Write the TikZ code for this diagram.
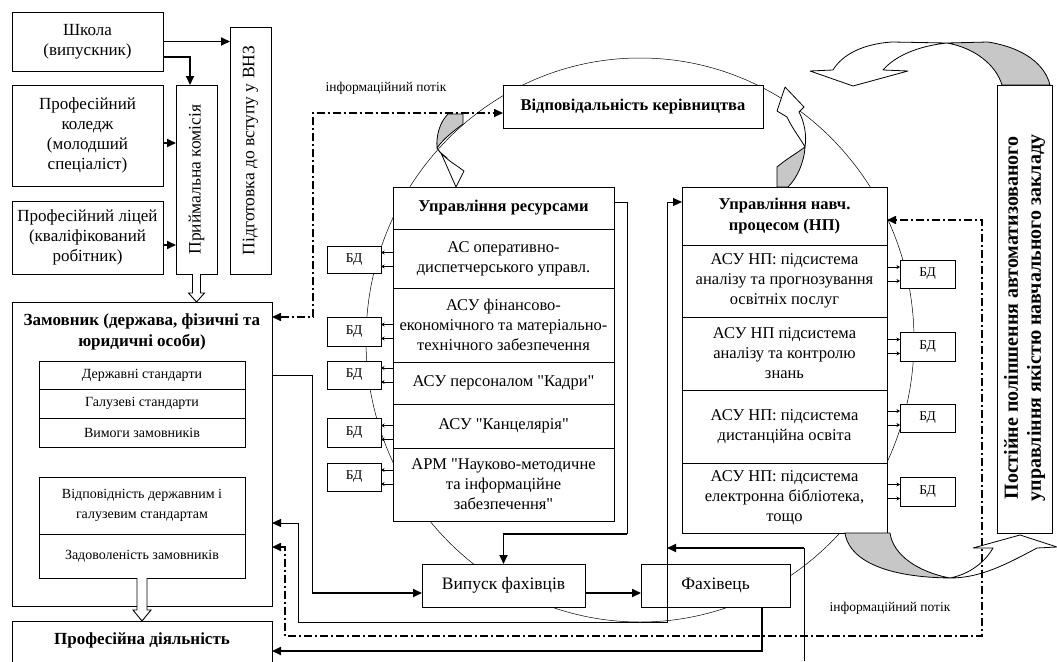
\documentclass[tikz,border=0pt]{standalone}
\usepackage{fontspec}
\setmainfont{Liberation Serif}
\usetikzlibrary{arrows.meta,calc}
\newcommand\qq{{\addfontfeatures{Ligatures=TeXOff}"}}
\begin{document}
\begin{tikzpicture}[x=1pt,y=-1pt,
  every node/.style={inner sep=0pt, outer sep=0pt},
  bx/.style={draw, line width=0.9pt, fill=white, align=center, font=\fontsize{16.5}{20}\selectfont},
  lbx/.style={bx, font=\fontsize{17}{20}\selectfont},
  sbx/.style={bx, minimum width=206pt, font=\fontsize{14}{20}\selectfont},
  row/.style={bx, minimum width=221pt},
  nrow/.style={bx, minimum width=205pt},
  bd/.style={draw, line width=0.9pt, fill=white, font=\fontsize{13.5}{14}\selectfont},
  rot/.style={rotate=90, align=center, font=\fontsize{17.5}{20}\selectfont},
  lab/.style={font=\fontsize{13.5}{14}\selectfont},
  hd/.style={font=\bfseries\fontsize{16.5}{21}\selectfont},
  ln/.style={line width=0.9pt},
  thk/.style={line width=1.8pt},
  tip/.style={-{Triangle[length=9pt,width=8pt]}},
  tips/.style={{Triangle[length=9pt,width=8pt]}-{Triangle[length=9pt,width=8pt]}},
  dd/.style={line width=1.6pt, dash pattern=on 8pt off 3pt on 2pt off 3pt},
  sm/.style={line width=0.7pt,-{Stealth[length=3.5pt,width=4pt]}},
  ribbon/.style={line width=0.8pt, fill=white, line join=round},
  ribbong/.style={line width=0.8pt, fill=black!22, line join=round},
]
\clip (0,0) rectangle (1057,661);
\fill[white] (0,0) rectangle (1057,661);

% big cycle
\draw[line width=0.5pt] (640,340) ellipse [x radius=274, y radius=282];

% ---------- left column ----------
\node[lbx, minimum width=151pt, minimum height=59pt] (school) at (87.5,41.5) {Школа\\(випускник)};
\node[lbx, minimum width=151pt, minimum height=101pt] (college) at (87.5,135.5) {Професійний\\коледж\\(молодший\\спеціаліст)};
\node[lbx, minimum width=151pt, minimum height=73pt] (lyceum) at (87.5,237.5) {Професійний ліцей\\(кваліфікований\\робітник)};
\node[bx, minimum width=41pt, minimum height=189pt] (pk) at (196.5,179.5) {};
\node[rot] (pkT) at (pk.center) {Приймальна комісія};
\node[bx, minimum width=41pt, minimum height=247pt] (prep) at (250.5,150.5) {};
\node[rot] (prepT) at (prep.center) {Підготовка до вступу у ВНЗ};

\node[bx, minimum width=260pt, minimum height=304pt] (zam) at (142,454) {};
\node[hd, align=center, font=\bfseries\fontsize{17}{21}\selectfont] (zamT) at (142,332) {Замовник (держава, фізичні та\\юридичні особи)};
\node[sbx, minimum height=28pt] (s1) at (142,375) {Державні стандарти};
\node[sbx, minimum height=29pt] (s2) at (142,403.5) {Галузеві стандарти};
\node[sbx, minimum height=29pt] (s3) at (142,432.5) {Вимоги замовників};
\node[sbx, minimum height=57pt] (conf) at (142,505.5) {Відповідність державним і\\галузевим стандартам};
\node[sbx, minimum height=44pt] (sat) at (142,556) {Задоволеність замовників};

\node[bx, minimum width=260pt, minimum height=60pt, anchor=north] (prof) at (142,621) {};
\node[hd, font=\bfseries\fontsize{17}{21}\selectfont] (profT) at (142,640) {Професійна діяльність};

% ---------- middle ----------
\node[bx, hd, minimum width=260pt, minimum height=43pt] (otv) at (633,106.5) {Відповідальність керівництва};
\node[row, hd, minimum height=42pt] (ur) at (503.5,208) {Управління ресурсами};
\node[row, minimum height=59pt] (r1) at (503.5,258.5) {АС оперативно-\\диспетчерського управл.};
\node[row, minimum height=74pt] (r2) at (503.5,325) {АСУ фінансово-\\економічного та матеріально-\\технічного забезпечення};
\node[row, minimum height=42pt] (r3) at (503.5,383) {АСУ персоналом \qq Кадри\qq};
\node[row, minimum height=44pt] (r4) at (503.5,426) {АСУ \qq Канцелярія\qq};
\node[row, minimum height=73pt] (r5) at (503.5,484.5) {АРМ \qq Науково-методичне\\та інформаційне\\забезпечення\qq};

\node[nrow, hd, minimum height=58pt] (un) at (784.5,216) {Управління навч.\\процесом (НП)};
\node[nrow, minimum height=72pt] (n1) at (784.5,281) {АСУ НП: підсистема\\аналізу та прогнозування\\освітніх послуг};
\node[nrow, minimum height=73pt] (n2) at (784.5,353.5) {АСУ НП підсистема\\аналізу та контролю\\знань};
\node[nrow, minimum height=73pt] (n3) at (784.5,426.5) {АСУ НП: підсистема\\дистанційна освіта};
\node[nrow, minimum height=70pt] (n4) at (784.5,498) {АСУ НП: підсистема\\електронна бібліотека,\\тощо};

% databases
\node[bd, minimum width=54pt, minimum height=27pt] (L1) at (354,259.5) {БД};
\node[bd, minimum width=54pt, minimum height=29pt] (L2) at (354,331.5) {БД};
\node[bd, minimum width=54pt, minimum height=28pt] (L3) at (354,375) {БД};
\node[bd, minimum width=54pt, minimum height=29pt] (L4) at (354,432.5) {БД};
\node[bd, minimum width=54pt, minimum height=28pt] (L5) at (354,477) {БД};
\node[bd, minimum width=55pt, minimum height=28pt] (R1) at (927.5,274) {БД};
\node[bd, minimum width=55pt, minimum height=29pt] (R2) at (927.5,346.5) {БД};
\node[bd, minimum width=55pt, minimum height=28pt] (R3) at (927.5,418) {БД};
\node[bd, minimum width=55pt, minimum height=29pt] (R4) at (927.5,491.5) {БД};

\node[bx, font=\fontsize{17.5}{20}\selectfont, minimum width=163pt, minimum height=43pt] (vyp) at (503.5,585.5) {Випуск фахівців};
\node[bx, font=\fontsize{17.5}{20}\selectfont, minimum width=149pt, minimum height=43pt] (fah) at (715.5,585.5) {Фахівець};

\node[bx, minimum width=55pt, minimum height=448pt] (post) at (1024.5,309) {};
\node[rot, font=\bfseries\fontsize{20}{23}\selectfont] (postT) at (1024.5,318) {Постійне поліпшення автоматизованого\\управління якістю навчального закладу};

\node[lab] (lab1) at (386,88) {інформаційний потік};
\node[lab] (lab2) at (890,608) {інформаційний потік};

% ---------- connectors: left ----------
\draw[thk, tip] (school.east) -- (school.east -| prep.west);
\coordinate (sc) at ($(school.east)+(0,15.5)$);
\draw[thk, tip] (sc) -| ($(pk.north)+(-6.5,0)$);
\coordinate (cc) at ($(college.east)+(0,7.5)$);
\draw[thk, tip] (cc) -- (cc -| pk.west);
\coordinate (lc) at ($(lyceum.east)+(0,7.5)$);
\draw[thk, tip] (lc) -- (lc -| pk.west);

% hollow arrows
\coordinate (h1s) at (pk.south);
\coordinate (h1e) at (zam.north -| pk.south);
\draw[ln, fill=white] ($(h1s)+(-4,0)$) -- ($(h1e)+(-4,-9)$) -- ($(h1e)+(-8,-9)$) -- (h1e) -- ($(h1e)+(8,-9)$) -- ($(h1e)+(4,-9)$) -- ($(h1s)+(4,0)$);
\coordinate (h2s) at (sat.south);
\coordinate (h2e) at (prof.north);
\draw[ln, fill=white] ($(h2s)+(-5,0)$) -- ($(h2e)+(-5,-11)$) -- ($(h2e)+(-9,-11)$) -- (h2e) -- ($(h2e)+(9,-11)$) -- ($(h2e)+(5,-11)$) -- ($(h2s)+(5,0)$);

% top information flow
\coordinate (d1) at (313,113);
\coordinate (d2) at (313,317);
\draw[dd, tips] (d2 -| zam.east) -- (d2) -- (d1) -- (d1 -| otv.west);

% Zamovnyk -> Vypusk
\coordinate (z1) at (312,375);
\coordinate (z2) at (312,593);
\draw[ln] (z1 -| zam.east) -- (z1) -- (z2);
\draw[thk, tip] (z2) -- (z2 -| vyp.west);

% resources -> Vypusk
\coordinate (u1) at (627,202);
\coordinate (u2) at (627,534);
\draw[ln] (u1 -| ur.east) -- (u1) -- (u2);
\draw[thk, tip] (u2) -| (vyp.north);

% Vypusk -> Fakhivets
\coordinate (v1) at ($(vyp.east)+(0,7.5)$);
\draw[thk, tip] (v1) -- (v1 -| fah.west);

% feedback loop
\coordinate (l1) at (298,523);
\coordinate (l2) at (298,622);
\coordinate (l3) at (667,622);
\coordinate (l4) at (667,202);
\draw[ln, tips] (l1 -| zam.east) -- (l1) -- (l2) -- (l3) -- (l4) -- (l4 -| un.west);

\coordinate (m1) at (804,661);
\coordinate (m2) at (804,548);
\draw[ln] (m1) -- (m2);
\draw[thk, tip] (m2) -- (m2 -| l3);

% Fakhivets -> profesiina diialnist
\coordinate (f1) at (762,651);
\draw[thk, tip] (fah.south -| f1) -- (f1) -- (f1 -| prof.east);

% DB connectors
\foreach \b/\r in {L1/r1, L2/r2, L3/r3, L4/r4, L5/r5}{
  \draw[sm] ($(\b.east -| \r.west)+(0,-7)$) -- ($(\b.east)+(0,-7)$);
  \draw[sm] ($(\b.east -| \r.west)+(0,7)$) -- ($(\b.east)+(0,7)$);
}
\foreach \b/\r in {R1/n1, R2/n2, R3/n3, R4/n4}{
  \draw[sm] ($(\b.west -| \r.east)+(0,-7)$) -- ($(\b.west)+(0,-7)$);
  \draw[sm] ($(\b.west -| \r.east)+(0,7)$) -- ($(\b.west)+(0,7)$);
}

% ---------- curved block arrows ----------
% top-left: management -> resources
\draw[ribbong] (448,114) -- (463,114) -- (463,124) .. controls (455,130) and (444,138) .. (437,148) .. controls (436,135) and (440,122) .. (448,114) -- cycle;
\draw[ribbon] (437,148) .. controls (440,153) and (443,156) .. (447,158) -- (441,153) -- (456,187) -- (464,171) -- (457,166) .. controls (449,161) and (441,154) .. (437,148) -- cycle;
% top-right: learning process -> management
\draw[ribbong] (777,187) -- (788,187) .. controls (797,178) and (804,163) .. (805,147) .. controls (797,153) and (785,160) .. (777,167) -- cycle;
\draw[ribbon] (805,147) .. controls (807,135) and (804,121) .. (799,112) -- (804,107) -- (785,87) -- (777,111) -- (787,117) .. controls (792,128) and (800,138) .. (805,147) -- cycle;
% big top arrow from improvement box
\draw[ribbong] (947,43) -- (988,42) .. controls (1025,48) and (1045,65) .. (1050,85) -- (1002,85) .. controls (996,65) and (975,48) .. (947,43) -- cycle;
\draw[ribbon] (947,43) -- (892,42) .. controls (862,44) and (842,55) .. (833,70) -- (810,71) -- (853,86) -- (908,71) -- (883,70) .. controls (895,56) and (918,46) .. (947,43) -- cycle;
% bottom arrow to improvement box
\draw[ribbong] (845,533) .. controls (848,555) and (875,577) .. (950,578) .. controls (918,572) and (893,555) .. (890,533) -- cycle;
\draw[ribbon] (950,578) .. controls (980,578) and (1005,565) .. (1037,548) -- (1057,547) -- (1020,535) -- (973,548) -- (993,548) .. controls (985,562) and (970,574) .. (950,578) -- cycle;

% bottom information flow
\coordinate (e1) at (285,547);
\coordinate (e2) at (285,636);
\coordinate (e3) at (982,636);
\coordinate (e4) at (982,220);
\draw[dd, tips] (e1 -| zam.east) -- (e1) -- (e2) -- (e3) -- (e4) -- (e4 -| un.east);
\end{tikzpicture}
\end{document}
